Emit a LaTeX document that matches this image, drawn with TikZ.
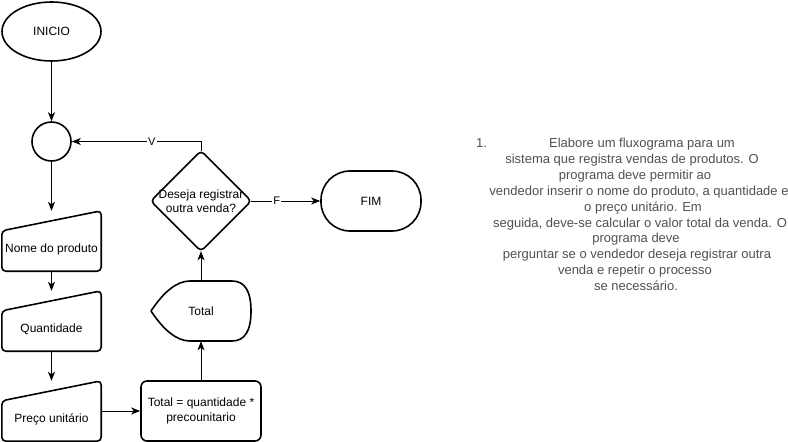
\documentclass[tikz,border=0pt]{standalone}
\usepackage{fontspec}
\setmainfont{Liberation Sans}
\usetikzlibrary{arrows.meta,calc,shapes.geometric}
\definecolor{txtgray}{HTML}{505050}
\newcommand{\fsbox}{\fontsize{12}{14.5}\selectfont}
\newcommand{\fsdesc}{\fontsize{13}{15.8}\selectfont}
\begin{document}
\begin{tikzpicture}[x=1pt,y=-1pt,
  shp/.style={line width=1.6pt, line join=round},
  conn/.style={line width=1pt, -{Stealth[length=9pt,width=7pt,inset=2.5pt]}},
  lbl/.style={fill=white, inner sep=1pt, font=\fontsize{11}{13}\selectfont},
  bb/.style={inner sep=0pt, minimum width=#1, minimum height=60pt, font=\fsbox, align=center},
  bb/.default=99pt,
  txt/.style={font=\fsbox, inner sep=0pt},
  desc/.style={font=\fsdesc, text=txtgray, inner sep=0pt, anchor=base}
]
\useasboundingbox (0,0) rectangle (788,442);

% start / connector circle
\node[shp, draw, ellipse, minimum width=99pt, minimum height=59pt, inner sep=0pt, font=\fsbox] (inicio) at (51.5,31.5) {INICIO};
\node[shp, draw, circle, minimum size=39pt, inner sep=0pt] (circ) at (51.5,141.5) {};

% manual inputs
\node[bb] (nome) at (51.5,241) {};
\node[bb] (quant) at (51.5,321) {};
\node[bb] (preco) at (51.5,411) {};
\foreach \n in {nome,quant,preco}{
  \draw[shp, rounded corners=4pt] (\n.south) -- (\n.south west) -- ([yshift=-20pt]\n.north west) -- (\n.north east) -- (\n.south east) -- cycle;
}
\node[txt] (nomet) at (51.5,249) {Nome do produto};
\node[txt] (quantt) at (51.5,329) {Quantidade};
\node[txt] (precot) at (51.5,419) {Preço unitário};

% process
\node[shp, draw, rounded corners=6pt, minimum width=120pt, minimum height=60pt, inner sep=0pt, font=\fsbox, align=center] (calc) at (201,411) {Total = quantidade *\\precounitario};

% display
\node[bb=100pt] (disp) at (201,311) {Total};
\draw[shp] (151,311) .. controls (164.3,291) and (177.3,281) .. (190,281) -- (232,281)
  .. controls (244.7,281) and (251,291) .. (251,311)
  .. controls (251,331) and (244.7,341) .. (232,341) -- (190,341)
  .. controls (177.3,341) and (164.3,331) .. (151,311) -- cycle;

% decision
\node[inner sep=0pt, minimum width=100pt, minimum height=100pt, font=\fsbox, align=center] (dec) at (201,201) {Deseja registrar\\outra venda?};
\draw[shp, rounded corners=4pt] ($(dec.north)!0.5!(dec.east)$) -- (dec.east) -- (dec.south) -- (dec.west) -- (dec.north) -- cycle;

% end
\node[shp, draw, rounded corners=29pt, minimum width=100pt, minimum height=60pt, inner sep=0pt, font=\fsbox] (fim) at (371,201) {FIM};

% connectors
\draw[conn] (inicio.south) -- (circ.north);
\draw[conn] (circ.south) -- (nome.north);
\draw[conn] (nome.south) -- (quant.north);
\draw[conn] (quant.south) -- (preco.north);
\draw[conn] (preco.east) -- (calc.west);
\draw[conn] (calc.north) -- (disp.south);
\draw[conn] (disp.north) -- (dec.south);
\draw[conn] (dec.north) |- node[lbl, pos=0.69] {V} (circ.east);
\draw[conn] (dec.east) -- node[lbl, pos=0.37] {F} (fim.west);

% description
\node[desc, anchor=base west] (num) at (476,147.5) {1.};
\node[desc] (l1) at (642,147.5) {Elabore um fluxograma para um};
\node[desc] (l2) at (632,163.4) {sistema que registra vendas de produtos. O};
\node[desc] (l3) at (635,179.3) {programa deve permitir ao};
\node[desc] (l4) at (639,195.2) {vendedor inserir o nome do produto, a quantidade e};
\node[desc] (l5) at (643,211.1) {o preço unitário. Em};
\node[desc] (l6) at (640,227.0) {seguida, deve-se calcular o valor total da venda. O};
\node[desc] (l7) at (636,242.9) {programa deve};
\node[desc] (l8) at (637,258.8) {perguntar se o vendedor deseja registrar outra};
\node[desc] (l9) at (635,274.7) {venda e repetir o processo};
\node[desc] (l10) at (636,290.6) {se necessário.};
\end{tikzpicture}
\end{document}
